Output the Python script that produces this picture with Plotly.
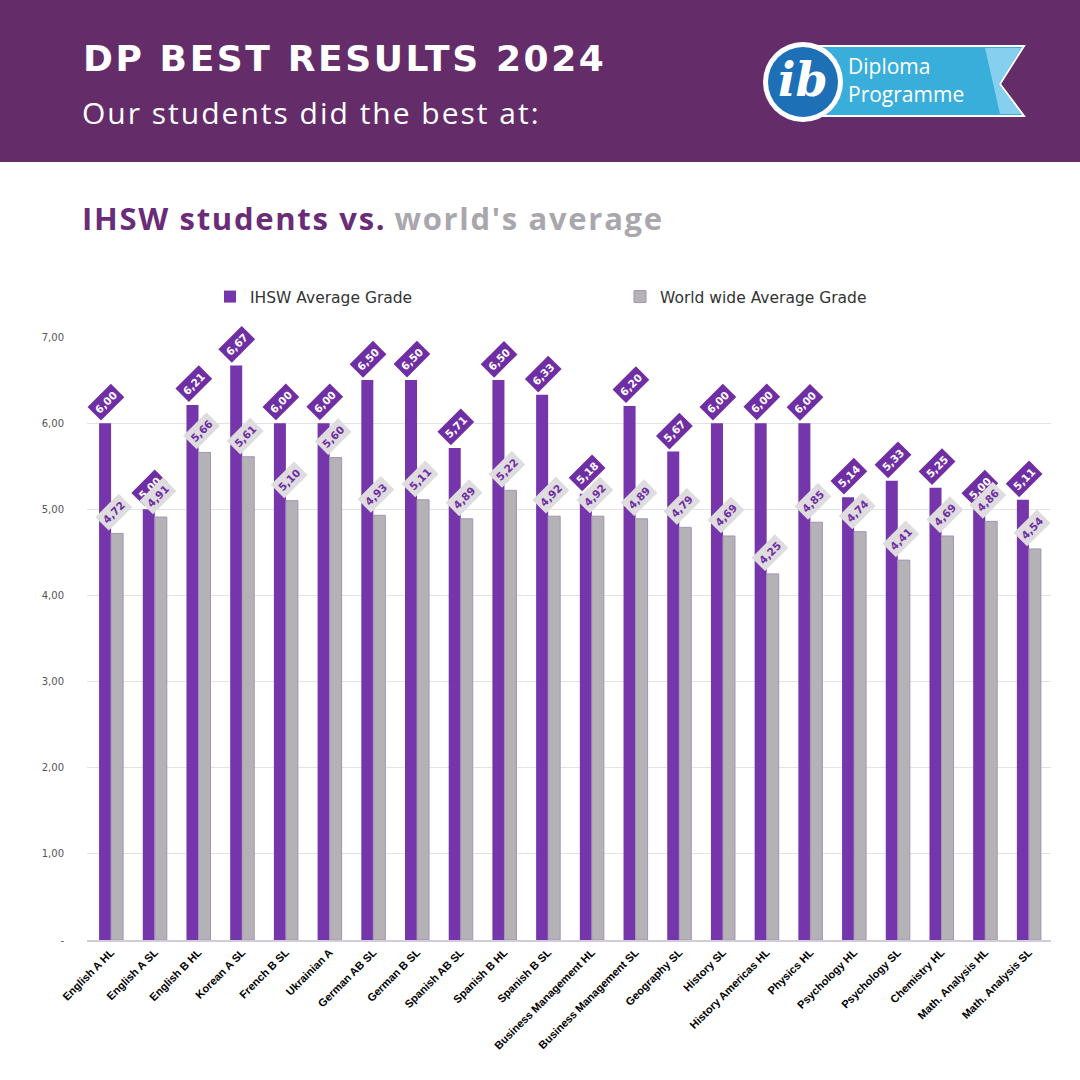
import plotly.graph_objects as go

subjects = [
    "English A HL", "English A SL", "English B HL", "Korean A SL", "French B SL",
    "Ukrainian A", "German AB SL", "German B SL", "Spanish AB SL", "Spanish B HL",
    "Spanish B SL", "Business Management HL", "Business Management SL", "Geography SL",
    "History SL", "History Americas HL", "Physics HL", "Psychology HL", "Psychology SL",
    "Chemistry HL", "Math. Analysis HL", "Math. Analysis SL",
]
ihsw_avg = [6.00, 5.00, 6.21, 6.67, 6.00, 6.00, 6.50, 6.50, 5.71, 6.50, 6.33,
            5.18, 6.20, 5.67, 6.00, 6.00, 6.00, 5.14, 5.33, 5.25, 5.00, 5.11]
world_avg = [4.72, 4.91, 5.66, 5.61, 5.10, 5.60, 4.93, 5.11, 4.89, 5.22, 4.92,
             4.92, 4.89, 4.79, 4.69, 4.25, 4.85, 4.74, 4.41, 4.69, 4.86, 4.54]
y_tick_vals = [0, 1, 2, 3, 4, 5, 6, 7]
y_tick_text = ["-", "1,00", "2,00", "3,00", "4,00", "5,00", "6,00", "7,00"]

W = H = 1080
L, R, T, B = 87, 1051, 337, 940

PURPLE = "#7535ab"
GREY = "#b4b2b5"
HEADER = "#642d6a"


def px(x):
    return (x - L) / (R - L)


def py(y):
    return (B - y) / (B - T)


def fmt(v):
    return f"{v:.2f}".replace(".", ",")


fig = go.Figure()
fig.add_bar(x=subjects, y=ihsw_avg, name="IHSW Average Grade",
            marker=dict(color=PURPLE, line=dict(width=0)))
fig.add_bar(x=subjects, y=world_avg, name="World wide Average Grade",
            marker=dict(color=GREY, line=dict(color="#a592ba", width=1)))

ann = []
for s, v in zip(subjects, ihsw_avg):
    ann.append(dict(x=s, y=v, xref="x", yref="y", text=fmt(v), showarrow=False,
                    textangle=-45, bgcolor="#6f2ea3", borderpad=3,
                    font=dict(family="DejaVu Sans", size=10.5, color="white", weight="bold"),
                    xshift=-5, yshift=21, xanchor="center", yanchor="middle"))
for s, v in zip(subjects, world_avg):
    ann.append(dict(x=s, y=v, xref="x", yref="y", text=fmt(v), showarrow=False,
                    textangle=-45, bgcolor="#dedcde", borderpad=3,
                    font=dict(family="DejaVu Sans", size=10.5, color="#6f2ea3", weight="bold"),
                    xshift=3, yshift=21, xanchor="center", yanchor="middle"))

# header texts
ann.append(dict(x=px(81), y=py(58), xref="paper", yref="paper", xanchor="left", yanchor="middle",
                text="<span style='letter-spacing:2.6px'>DP BEST RESULTS 2024</span>", showarrow=False,
                font=dict(family="DejaVu Sans", size=36, color="white", weight="bold")))
ann.append(dict(x=px(80), y=py(113), xref="paper", yref="paper", xanchor="left", yanchor="middle",
                text="<span style='letter-spacing:2.0px'>Our students did the best at:</span>",
                showarrow=False,
                font=dict(family="Open Sans", size=30, color="white", weight=500)))
ann.append(dict(x=px(80), y=py(218), xref="paper", yref="paper", xanchor="left", yanchor="middle",
                text="<span style='color:#6a2c78;letter-spacing:1.7px'>IHSW students vs.</span> "
                     "<span style='color:#aaa6ad;letter-spacing:1.7px'>world's average</span>",
                showarrow=False,
                font=dict(family="Open Sans", size=31, weight="bold")))
# logo texts
ann.append(dict(x=px(846), y=py(66), xref="paper", yref="paper", xanchor="left", yanchor="middle",
                text="Diploma", showarrow=False,
                font=dict(family="Open Sans", size=21, color="white")))
ann.append(dict(x=px(846), y=py(94), xref="paper", yref="paper", xanchor="left", yanchor="middle",
                text="Programme", showarrow=False,
                font=dict(family="Open Sans", size=21, color="white")))
ann.append(dict(x=px(803), y=py(80), xref="paper", yref="paper", xanchor="center", yanchor="middle",
                text="<i>ib</i>", showarrow=False,
                font=dict(family="DejaVu Serif", size=46, color="white", weight="bold")))


def path(points):
    return "M " + " L ".join(f"{px(a):.5f},{py(b):.5f}" for a, b in points) + " Z"


shapes = [
    dict(type="rect", xref="paper", yref="paper", x0=px(0), x1=px(1080), y0=py(0), y1=py(162),
         fillcolor=HEADER, line=dict(width=0), layer="below"),
    dict(type="path", xref="paper", yref="paper",
         path=path([(800, 46), (1024, 46), (1000, 84), (1024, 116), (800, 116)]),
         fillcolor="#3aaedb", line=dict(color="white", width=2)),
    dict(type="path", xref="paper", yref="paper",
         path=path([(985, 48), (1021, 48), (999, 84), (1021, 114), (1000, 114)]),
         fillcolor="#86cfee", line=dict(width=0)),
    dict(type="circle", xref="paper", yref="paper",
         x0=px(803 - 40), x1=px(803 + 40), y0=py(82 + 40), y1=py(82 - 40),
         fillcolor="white", line=dict(width=0)),
    dict(type="circle", xref="paper", yref="paper",
         x0=px(803 - 35), x1=px(803 + 35), y0=py(82 + 35), y1=py(82 - 35),
         fillcolor="#1d6fb6", line=dict(width=0)),
]

fig.update_layout(
    width=W, height=H,
    margin=dict(l=L, r=W - R, t=T, b=H - B, pad=0),
    paper_bgcolor="white", plot_bgcolor="white",
    barmode="group", bargap=0.45, bargroupgap=0,
    showlegend=True,
    legend=dict(orientation="h", x=px(210), y=py(297), xanchor="left", yanchor="middle",
                entrywidth=365, entrywidthmode="pixels",
                font=dict(family="DejaVu Sans", size=15.5, color="#333333"),
                bgcolor="rgba(0,0,0,0)"),
    xaxis=dict(tickangle=-45, showline=True, linecolor="#d2cbd9", linewidth=1.5,
               ticks="", showgrid=False,
               tickfont=dict(family="Liberation Sans", size=11, color="black", weight="bold")),
    yaxis=dict(range=[0, 7], tickvals=y_tick_vals, ticktext=y_tick_text,
               showgrid=True, gridcolor="#e3e3e3", gridwidth=1, zeroline=False,
               showline=False, ticks="", ticklabelstandoff=22,
               tickfont=dict(family="DejaVu Sans", size=10, color="#555555")),
    annotations=ann,
    shapes=shapes,
)

fig.write_html("out.html", config={"displayModeBar": False},
               post_script="document.body.style.margin='0';document.body.style.overflow='hidden';")
